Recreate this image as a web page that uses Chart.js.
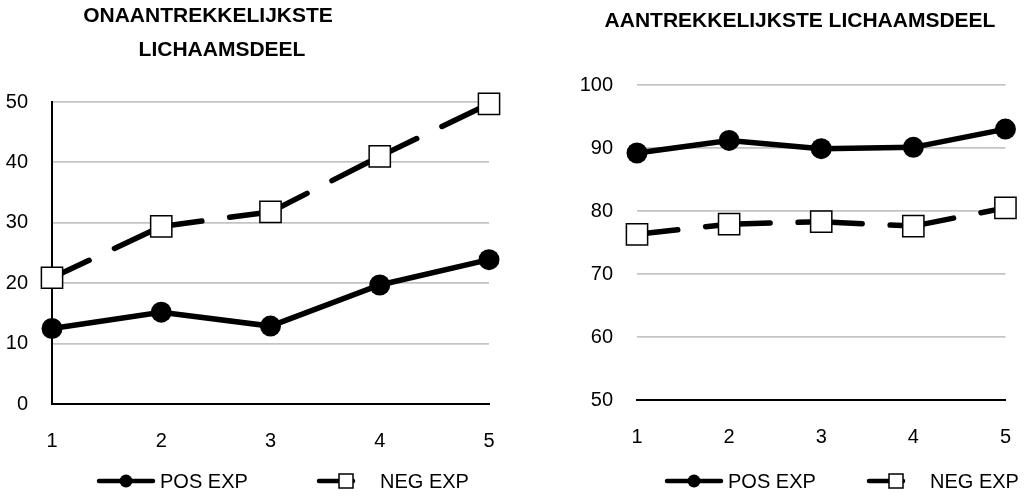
<!DOCTYPE html>
<html>
<head>
<meta charset="utf-8">
<script src="https://cdn.jsdelivr.net/npm/chart.js@4.4.1/dist/chart.umd.min.js"></script>
<style>
  html, body { margin: 0; padding: 0; background: #fff; }
  #wrap { position: relative; width: 1036px; height: 496px; overflow: hidden;
          font-family: "Liberation Sans", Arial, Helvetica, sans-serif; }
  .panel { position: absolute; top: 0; height: 496px; }
  #pLeft { left: 0; width: 520px; }
  #pRight { left: 520px; width: 516px; }
  .ttl { position: absolute; font-weight: bold; font-size: 21px; line-height: 21px;
         white-space: nowrap; color: #000; transform: translateX(-50%); }
</style>
</head>
<body>
<div id="wrap">
  <div class="panel" id="pLeft"><canvas id="cLeft" width="520" height="496"></canvas></div>
  <div class="panel" id="pRight"><canvas id="cRight" width="516" height="496"></canvas></div>
  <div class="ttl" style="left:208px; top:4px;">ONAANTREKKELIJKSTE</div>
  <div class="ttl" style="left:222px; top:38px;">LICHAAMSDEEL</div>
  <div class="ttl" style="left:800px; top:9px;">AANTREKKELIJKSTE LICHAAMSDEEL</div>
</div>
<script>
// Measurement moments on the x axis
const trials = ['1', '2', '3', '4', '5'];
const seriesNames = ['POS EXP', 'NEG EXP'];

// Least attractive body part
const leftPos = [12.5, 15.2, 12.9, 19.7, 23.9];
const leftNeg = [20.9, 29.4, 31.8, 41.0, 49.7];
const leftTicks = [0, 10, 20, 30, 40, 50];

// Most attractive body part
const rightPos = [89.2, 91.2, 89.9, 90.1, 93.0];
const rightNeg = [76.3, 77.9, 78.3, 77.6, 80.5];
const rightTicks = [50, 60, 70, 80, 90, 100];

const FONT = '"Liberation Sans", Arial, Helvetica, sans-serif';
Chart.defaults.font.family = FONT;
Chart.defaults.font.size = 20;
Chart.defaults.color = '#000';

function posSeries(data) {
  return {
    label: seriesNames[0], data,
    borderColor: '#000', borderWidth: 5.5, tension: 0,
    pointStyle: 'circle', pointRadius: 10.5, pointHoverRadius: 10.5,
    pointBackgroundColor: '#000', pointBorderWidth: 0, clip: false
  };
}

function negSeries(data) {
  return {
    label: seriesNames[1], data,
    borderColor: '#000', borderWidth: 5.5, tension: 0,
    borderDash: [41, 28], borderCapStyle: 'round',
    // restart the dash pattern at every data point
    segment: { borderDashOffset: c => c.p0DataIndex * 0.001 },
    pointStyle: 'rect', pointRadius: 15, pointHoverRadius: 15,
    pointBackgroundColor: '#fff', pointBorderColor: '#000', pointBorderWidth: 1.5,
    clip: false
  };
}

// Legend row: line + marker sample followed by the series name
const seriesKey = {
  id: 'seriesKey',
  afterDraw(chart, args, opts) {
    const ctx = chart.ctx;
    const area = chart.chartArea;
    ctx.save();
    ctx.font = '20px ' + FONT;
    ctx.textBaseline = 'middle';
    ctx.textAlign = 'left';
    chart.data.datasets.forEach((ds, i) => {
      const x = area.left + opts.start + i * opts.pitch;
      const y = opts.y;
      const cx = x + 29;
      ctx.strokeStyle = ds.borderColor;
      ctx.lineWidth = 4.5;
      ctx.lineCap = 'round';
      ctx.beginPath();
      ctx.moveTo(x + 2, y);
      ctx.lineTo(x + (ds.borderDash ? 36 : 56), y);
      ctx.stroke();
      if (ds.pointStyle === 'rect') {
        ctx.fillStyle = ds.pointBackgroundColor;
        ctx.fillRect(cx - 7, y - 7, 14, 14);
        ctx.lineWidth = 1.5;
        ctx.strokeStyle = ds.pointBorderColor;
        ctx.strokeRect(cx - 7, y - 7, 14, 14);
      } else {
        ctx.fillStyle = ds.pointBackgroundColor;
        ctx.beginPath();
        ctx.arc(cx, y, 6.5, 0, Math.PI * 2);
        ctx.fill();
      }
      ctx.fillStyle = '#000';
      ctx.fillText(ds.label, x + 63, y + 1);
    });
    ctx.restore();
  }
};

function makeChart(canvasId, pos, neg, ticks, cfg) {
  return new Chart(document.getElementById(canvasId), {
    type: 'line',
    data: { labels: trials, datasets: [posSeries(pos), negSeries(neg)] },
    plugins: [seriesKey],
    options: {
      responsive: false, animation: false, devicePixelRatio: 1,
      layout: { padding: { top: cfg.top, right: cfg.right, bottom: cfg.bottom, left: 0 } },
      plugins: {
        legend: { display: false },
        tooltip: { enabled: false },
        seriesKey: cfg.key
      },
      scales: {
        x: {
          type: 'category', offset: false,
          grid: { display: false, drawTicks: false },
          border: { display: true, color: '#000', width: 2 },
          ticks: { padding: 25, color: '#000', font: { size: 20 }, maxRotation: 0 },
          afterFit: s => { s.height = cfg.xh; }
        },
        y: {
          min: ticks[0], max: ticks[ticks.length - 1],
          afterBuildTicks: s => { s.ticks = ticks.map(v => ({ value: v })); },
          grid: { color: '#c4c4c4', lineWidth: 1.8, drawTicks: false },
          border: { display: cfg.yBorder, color: '#000', width: 2 },
          ticks: { padding: 24, color: '#000', font: { size: 20 } },
          afterFit: s => { s.width = cfg.yw; }
        }
      }
    }
  });
}

makeChart('cLeft', leftPos, leftNeg, leftTicks, {
  top: 102, right: 31, bottom: 32, xh: 60, yw: 52, yBorder: true,
  key: { start: 45, pitch: 220, y: 481 }
});

makeChart('cRight', rightPos, rightNeg, rightTicks, {
  top: 85, right: 14, bottom: 36, xh: 60, yw: 117, yBorder: false,
  key: { start: 28, pitch: 202, y: 481 }
});
</script>
</body>
</html>
